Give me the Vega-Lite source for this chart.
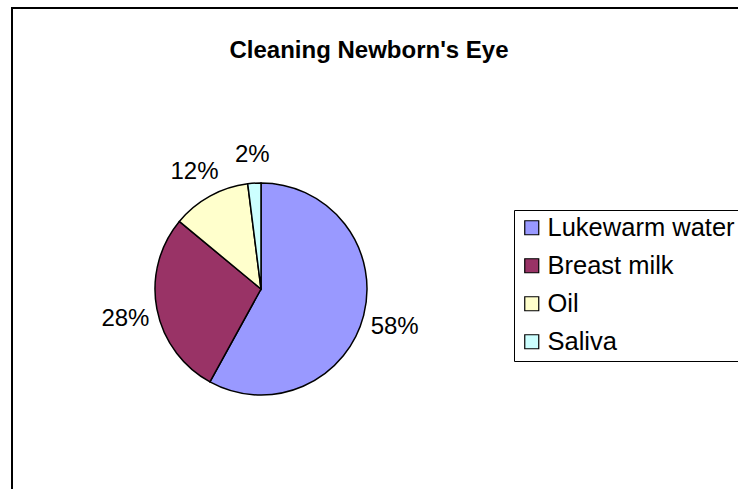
{
  "$schema": "https://vega.github.io/schema/vega-lite/v6.json",
  "width": 740,
  "height": 490,
  "autosize": "none",
  "padding": {"left": 12, "top": 8, "right": 0, "bottom": 0},
  "background": "white",
  "view": {"stroke": "black", "strokeWidth": 2, "fill": "white"},
  "config": {
    "font": "Liberation Sans"
  },
  "title": {
    "text": "Cleaning Newborn's Eye",
    "font": "Liberation Sans",
    "fontSize": 24,
    "fontWeight": "bold",
    "color": "black",
    "anchor": "middle",
    "frame": "group",
    "dx": -13,
    "dy": 59
  },
  "data": {
    "values": [
      {"method": "Lukewarm water", "pct": 0.58},
      {"method": "Breast milk", "pct": 0.28},
      {"method": "Oil", "pct": 0.12},
      {"method": "Saliva", "pct": 0.02}
    ]
  },
  "encoding": {
    "theta": {"field": "pct", "type": "quantitative", "stack": true},
    "order": {"field": "pct", "type": "quantitative", "sort": "descending"}
  },
  "layer": [
    {
      "mark": {"type": "arc", "x": 249, "y": 281, "outerRadius": 106, "stroke": "black", "strokeWidth": 1.5},
      "encoding": {
        "color": {
          "field": "method",
          "type": "nominal",
          "scale": {
            "domain": ["Lukewarm water", "Breast milk", "Oil", "Saliva"],
            "range": ["#9999FF", "#993366", "#FFFFCC", "#CCFFFF"]
          },
          "legend": {
            "title": null,
            "orient": "none",
            "legendX": 502,
            "legendY": 202,
            "symbolType": "square",
            "symbolSize": 196,
            "symbolStrokeColor": "black",
            "symbolStrokeWidth": 1.2,
            "labelFont": "Liberation Sans",
            "labelFontSize": 25.5,
            "labelColor": "black",
            "labelOffset": 3,
            "labelLimit": 400,
            "rowPadding": 11,
            "padding": 5,
            "strokeColor": "black",
            "fillColor": "white"
          }
        }
      }
    },
    {
      "mark": {"type": "text", "x": 249, "y": 281, "radius": 138, "dy": 4, "font": "Liberation Sans", "fontSize": 24, "color": "black"},
      "encoding": {
        "text": {"field": "pct", "type": "quantitative", "format": ".0%"}
      }
    }
  ]
}
